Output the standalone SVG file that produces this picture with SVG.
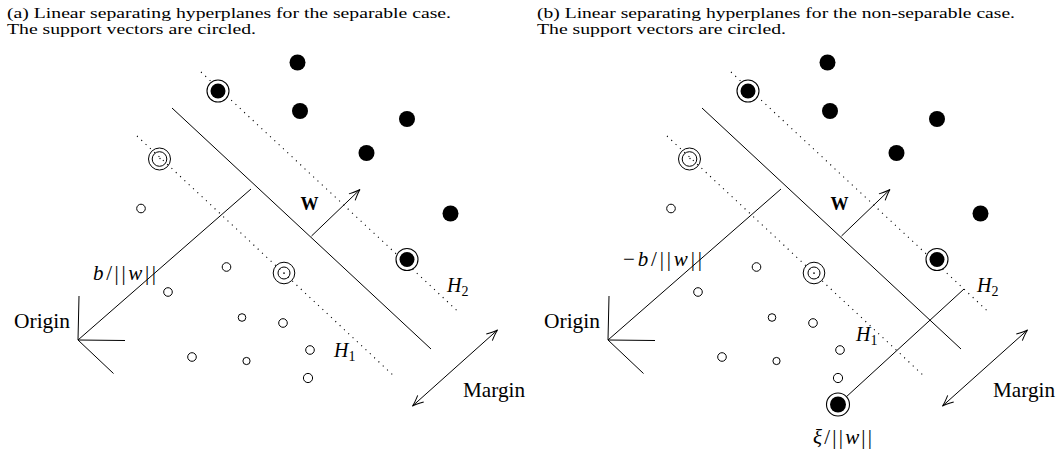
<svg xmlns="http://www.w3.org/2000/svg" width="1059" height="453" viewBox="0 0 1059 453">
<style>
text{font-family:"Liberation Serif","Times New Roman",serif;fill:#000}
.title{font-size:15.5px}
.lbl{font-size:21px}
.math{font-size:21px}
.hl{font-size:20px}
.it{font-style:italic}
.sub{font-size:14px}
.w{font-size:18px;font-weight:bold}
.solid{stroke:#000;stroke-width:1;fill:none}
.dot{stroke:#000;stroke-width:1.1;fill:none;stroke-dasharray:1.1 4.8}
.fill{fill:#000}
.open{fill:none;stroke:#000;stroke-width:1}
.ring{fill:#fff;stroke:#000;stroke-width:1.1}
.arr{stroke:#000;stroke-width:1;fill:none;marker-end:url(#ah)}
.darr{stroke:#000;stroke-width:1;fill:none;marker-end:url(#ah);marker-start:url(#ah)}
</style>
<defs>
<marker id="ah" viewBox="-12 -6 14 12" refX="0" refY="0" markerWidth="14" markerHeight="12" markerUnits="userSpaceOnUse" orient="auto-start-reverse">
<path d="M-11,-4.5 Q-4,-1 0,0 Q-4,1 -11,4.5" fill="none" stroke="#000" stroke-width="1"/>
</marker>
</defs>

<!-- Panel (a) -->
<g id="panel-a">
<g id="title-a">
<text class="title" x="7" y="18" textLength="444" lengthAdjust="spacingAndGlyphs">(a) Linear separating hyperplanes for the separable case.</text>
<text class="title" x="7" y="33.5" textLength="249" lengthAdjust="spacingAndGlyphs">The support vectors are circled.</text>
</g>
<g id="connectors-a">
<line class="dot" x1="201" y1="72" x2="458" y2="311.5"/>
<line class="dot" x1="137" y1="136" x2="394" y2="376"/>
<line class="solid" x1="172" y1="108" x2="431" y2="349"/>
<line class="solid" x1="78" y1="340" x2="251" y2="189"/>
<polyline class="solid" points="79,296 78,340 125,340.5"/>
<line class="solid" x1="78" y1="340" x2="113.5" y2="373.5"/>
<line class="arr" x1="311.5" y1="236" x2="360" y2="189.5"/>
<line class="darr" x1="412.5" y1="406" x2="497.5" y2="330"/>
</g>
<g id="pos-a">
<circle class="fill" cx="297.5" cy="62.5" r="8"/>
<circle class="fill" cx="300" cy="111" r="8"/>
<circle class="fill" cx="407" cy="119" r="8"/>
<circle class="fill" cx="366.5" cy="153" r="8"/>
<circle class="fill" cx="450.5" cy="213.5" r="8"/>
</g>
<g id="sv-pos-a1"><circle class="ring" cx="218" cy="91" r="11"/><circle class="fill" cx="218" cy="91" r="7.5"/></g>
<g id="sv-pos-a2"><circle class="ring" cx="407" cy="259.5" r="11"/><circle class="fill" cx="407" cy="259.5" r="7.5"/></g>
<g id="neg-a">
<circle class="open" cx="141" cy="208.5" r="4.3"/>
<circle class="open" cx="226.5" cy="267" r="4.3"/>
<circle class="open" cx="168" cy="292" r="4.3"/>
<circle class="open" cx="242" cy="317.5" r="3.8"/>
<circle class="open" cx="283" cy="323" r="4.3"/>
<circle class="open" cx="310" cy="350" r="4.3"/>
<circle class="open" cx="192" cy="357" r="4.3"/>
<circle class="open" cx="246.5" cy="361" r="3.6"/>
<circle class="open" cx="308" cy="378" r="4.6"/>
</g>
<g id="sv-neg-a1"><circle class="open" cx="159.5" cy="159" r="11"/><circle class="open" cx="159.5" cy="159" r="7.3"/><circle class="fill" cx="160" cy="158.5" r="0.7"/></g>
<g id="sv-neg-a2"><circle class="open" cx="284" cy="273" r="10.8"/><circle class="open" cx="284" cy="273" r="6"/><circle class="fill" cx="284" cy="273" r="0.7"/></g>
<g id="labels-a">
<text class="w" x="300.5" y="210">W</text>
<text class="math" x="93" y="280" textLength="63" lengthAdjust="spacing"><tspan class="it">b</tspan>/||<tspan class="it">w</tspan>||</text>
<text class="lbl" x="14" y="328" textLength="56" lengthAdjust="spacingAndGlyphs">Origin</text>
<text class="lbl" x="463" y="397" textLength="62" lengthAdjust="spacingAndGlyphs">Margin</text>
<text class="hl" x="447" y="291.5"><tspan class="it">H</tspan><tspan class="sub" dy="4">2</tspan></text>
<text class="hl" x="334" y="357"><tspan class="it">H</tspan><tspan class="sub" dy="4">1</tspan></text>
</g>
</g>

<!-- Panel (b) -->
<g id="panel-b">
<g id="title-b">
<text class="title" x="537" y="18" textLength="478" lengthAdjust="spacingAndGlyphs">(b) Linear separating hyperplanes for the non-separable case.</text>
<text class="title" x="537" y="33.5" textLength="249" lengthAdjust="spacingAndGlyphs">The support vectors are circled.</text>
</g>
<g id="connectors-b">
<line class="dot" x1="731" y1="72" x2="988" y2="311.5"/>
<line class="dot" x1="667" y1="136" x2="924" y2="376"/>
<line class="solid" x1="702" y1="108" x2="961" y2="349"/>
<line class="solid" x1="608" y1="340" x2="781" y2="189"/>
<polyline class="solid" points="609,296 608,340 655,340.5"/>
<line class="solid" x1="608" y1="340" x2="643.5" y2="373.5"/>
<line class="arr" x1="841.5" y1="236" x2="890" y2="189.5"/>
<line class="darr" x1="942.5" y1="406" x2="1027.5" y2="330"/>
<line class="solid" x1="845" y1="398" x2="964" y2="289"/>
</g>
<g id="pos-b">
<circle class="fill" cx="827.5" cy="62.5" r="8"/>
<circle class="fill" cx="830" cy="111" r="8"/>
<circle class="fill" cx="937" cy="119" r="8"/>
<circle class="fill" cx="896.5" cy="153" r="8"/>
<circle class="fill" cx="980.5" cy="213.5" r="8"/>
</g>
<g id="sv-pos-b1"><circle class="ring" cx="748" cy="91" r="11"/><circle class="fill" cx="748" cy="91" r="7.5"/></g>
<g id="sv-pos-b2"><circle class="ring" cx="937" cy="259.5" r="11"/><circle class="fill" cx="937" cy="259.5" r="7.5"/></g>
<g id="sv-pos-b3"><circle class="ring" cx="838" cy="404.5" r="11.5"/><circle class="fill" cx="838" cy="404.5" r="8"/></g>
<g id="neg-b">
<circle class="open" cx="671" cy="208.5" r="4.3"/>
<circle class="open" cx="756.5" cy="267" r="4.3"/>
<circle class="open" cx="698" cy="292" r="4.3"/>
<circle class="open" cx="772" cy="317.5" r="3.8"/>
<circle class="open" cx="813" cy="323" r="4.3"/>
<circle class="open" cx="840" cy="350" r="4.3"/>
<circle class="open" cx="722" cy="357" r="4.3"/>
<circle class="open" cx="776.5" cy="361" r="3.6"/>
<circle class="open" cx="838" cy="378" r="4.6"/>
</g>
<g id="sv-neg-b1"><circle class="open" cx="689.5" cy="159" r="11"/><circle class="open" cx="689.5" cy="159" r="7.3"/><circle class="fill" cx="690" cy="158.5" r="0.7"/></g>
<g id="sv-neg-b2"><circle class="open" cx="814" cy="273" r="10.8"/><circle class="open" cx="814" cy="273" r="6"/><circle class="fill" cx="814" cy="273" r="0.7"/></g>
<g id="labels-b">
<text class="w" x="830.5" y="210">W</text>
<text class="math" x="623" y="266" textLength="79" lengthAdjust="spacing">−<tspan class="it">b</tspan>/||<tspan class="it">w</tspan>||</text>
<text class="lbl" x="544" y="328" textLength="56" lengthAdjust="spacingAndGlyphs">Origin</text>
<text class="lbl" x="993" y="397" textLength="62" lengthAdjust="spacingAndGlyphs">Margin</text>
<text class="hl" x="977" y="291.5"><tspan class="it">H</tspan><tspan class="sub" dy="4">2</tspan></text>
<text class="hl" x="856" y="341"><tspan class="it">H</tspan><tspan class="sub" dy="4">1</tspan></text>
<text class="math" x="813" y="444" textLength="59" lengthAdjust="spacing"><tspan class="it">ξ</tspan>/||<tspan class="it">w</tspan>||</text>
</g>
</g>
</svg>
